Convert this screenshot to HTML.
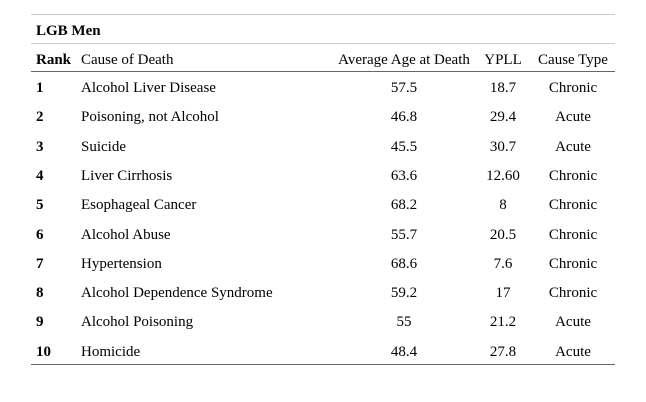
<!DOCTYPE html>
<html><head><style>
body{margin:0;width:646px;height:402px;background:#fff;position:relative;font-family:"Liberation Serif",serif;font-size:15px;color:#000}
.l{position:absolute;left:31px;width:584px;height:0}
.t{position:absolute;white-space:nowrap;line-height:16px}
.c{transform:translateX(-50%)}
b{font-weight:bold}
</style></head><body>
<div class="l" style="top:14px;border-top:1px solid #ccc"></div>
<div class="l" style="top:43px;border-top:1px solid #ccc"></div>
<div class="l" style="top:71px;border-top:1px solid #666"></div>
<div class="l" style="top:364px;border-top:1px solid #666"></div>
<div class="t" style="left:36px;top:23px"><b>LGB Men</b></div>
<div class="t" style="left:36px;top:52px"><b>Rank</b></div>
<div class="t" style="left:81px;top:52px">Cause of Death</div>
<div class="t c" style="left:404px;top:52px">Average Age at Death</div>
<div class="t c" style="left:503px;top:52px">YPLL</div>
<div class="t c" style="left:573px;top:52px">Cause Type</div>
<div id="rows"></div>
<script>
var d=[["1","Alcohol Liver Disease","57.5","18.7","Chronic"],["2","Poisoning, not Alcohol","46.8","29.4","Acute"],["3","Suicide","45.5","30.7","Acute"],["4","Liver Cirrhosis","63.6","12.60","Chronic"],["5","Esophageal Cancer","68.2","8","Chronic"],["6","Alcohol Abuse","55.7","20.5","Chronic"],["7","Hypertension","68.6","7.6","Chronic"],["8","Alcohol Dependence Syndrome","59.2","17","Chronic"],["9","Alcohol Poisoning","55","21.2","Acute"],["10","Homicide","48.4","27.8","Acute"]];
var h="";d.forEach(function(r,i){var y=80+i*29.3;
h+='<div class="t" style="left:36px;top:'+y+'px"><b>'+r[0]+'</b></div><div class="t" style="left:81px;top:'+y+'px">'+r[1]+'</div><div class="t c" style="left:404px;top:'+y+'px">'+r[2]+'</div><div class="t c" style="left:503px;top:'+y+'px">'+r[3]+'</div><div class="t c" style="left:573px;top:'+y+'px">'+r[4]+'</div>';});
document.getElementById("rows").innerHTML=h;
</script>
</body></html>
